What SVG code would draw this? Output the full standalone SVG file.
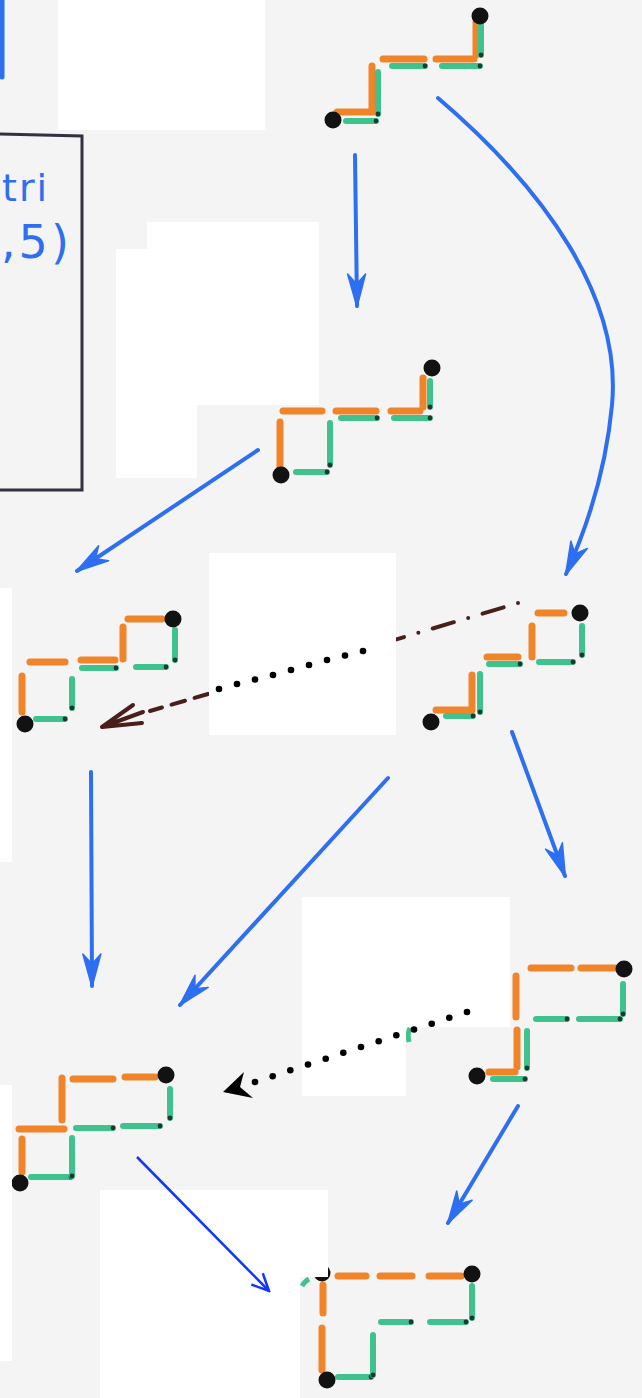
<svg xmlns="http://www.w3.org/2000/svg" width="642" height="1398" viewBox="0 0 642 1398">
  <style>
    .o { stroke: #ef8428; stroke-width: 7; stroke-linecap: round; fill: none; }
    .g { stroke: #3fc28e; stroke-width: 6; stroke-linecap: round; fill: none; marker-end: url(#gtip); }
    .pt { fill: #121212; }
    .b { stroke: #2d6ff0; stroke-width: 4; stroke-linecap: round; fill: none; marker-end: url(#dart); }
    .blk { fill: #000; }
    .mask { fill: #ffffff; }
    .frame { stroke: #30323f; stroke-width: 3; fill: none; stroke-linecap: round; }
    .note { fill: #2d6ff0; font-family: "DejaVu Sans", sans-serif; }
    .brown { stroke: #4a1e1a; stroke-width: 4; stroke-linecap: round; fill: none; }
  </style>
  <defs>
    <marker id="gtip" markerUnits="userSpaceOnUse" markerWidth="6" markerHeight="6" viewBox="-3 -3 6 6" refX="0" refY="0">
      <circle cx="0" cy="0" r="2.4" fill="#1b3a2b"/>
    </marker>
    <marker id="dart" markerUnits="userSpaceOnUse" markerWidth="36" markerHeight="22" viewBox="-34 -11 36 22" refX="0" refY="0" orient="auto">
      <path d="M1,0 L-32,-9 L-22,0 L-32,9 Z" fill="#2d6ff0" stroke="#2d6ff0" stroke-width="1.5" stroke-linejoin="round"/>
    </marker>
    <marker id="vee" markerUnits="userSpaceOnUse" markerWidth="22" markerHeight="20" viewBox="-20 -10 22 20" refX="0" refY="0" orient="auto">
      <path d="M-17,-8 L0,0 L-17,8" fill="none" stroke="#1136ff" stroke-width="2.5"/>
    </marker>
  </defs>

  <!-- paper -->
  <rect x="0" y="0" width="642" height="1398" fill="#f4f4f4"/>

  <!-- frame on the left with its note -->
  <g id="frame">
    <path class="frame" d="M0,134 L82,136 L82,490 L0,490"/>
    <text class="note" x="2" y="201" font-size="38" letter-spacing="2">tri</text>
    <text class="note" x="1" y="258" font-size="46" letter-spacing="3">,5)</text>
  </g>

  <!-- dash-dot link between the two middle paths -->
  <g id="link-dashdot">
    <line class="brown" x1="518" y1="603" x2="210" y2="695" stroke-dasharray="0 15 22 15"/>
    <line class="brown" x1="208" y1="694" x2="150" y2="711" stroke-dasharray="14 10"/>
    <path class="brown" d="M102,727 L133,705 M102,727 L143,712 M102,727 L142,723"/>
  </g>

  <!-- path A -->
  <g id="pathA">
    <line class="o" x1="337" y1="112" x2="373" y2="112"/>
    <line class="o" x1="372" y1="108" x2="372" y2="66"/>
    <line class="o" x1="383" y1="59" x2="424" y2="59"/>
    <line class="o" x1="436" y1="59" x2="474" y2="59"/>
    <line class="o" x1="476" y1="55" x2="476" y2="22"/>
    <line class="g" x1="346" y1="121" x2="376" y2="121"/>
    <line class="g" x1="378" y1="72" x2="378" y2="114"/>
    <line class="g" x1="392" y1="66" x2="425" y2="66"/>
    <line class="g" x1="442" y1="66" x2="480" y2="66"/>
    <line class="g" x1="481" y1="24" x2="481" y2="55"/>
    <circle class="pt" cx="333" cy="120" r="8.5"/>
    <circle class="pt" cx="480" cy="16" r="8.5"/>
  </g>

  <!-- path B -->
  <g id="pathB">
    <line class="o" x1="280" y1="422" x2="280" y2="470"/>
    <line class="o" x1="283" y1="411" x2="322" y2="411"/>
    <line class="o" x1="336" y1="411" x2="376" y2="411"/>
    <line class="o" x1="391" y1="411" x2="420" y2="411"/>
    <line class="o" x1="423" y1="378" x2="423" y2="407"/>
    <line class="g" x1="296" y1="472" x2="327" y2="472"/>
    <line class="g" x1="330" y1="423" x2="330" y2="465"/>
    <line class="g" x1="341" y1="418" x2="377" y2="418"/>
    <line class="g" x1="394" y1="418" x2="430" y2="418"/>
    <line class="g" x1="430" y1="381" x2="430" y2="407"/>
    <circle class="pt" cx="281" cy="475" r="8.5"/>
    <circle class="pt" cx="432" cy="368" r="8.5"/>
  </g>

  <!-- path C -->
  <g id="pathC">
    <line class="o" x1="22" y1="676" x2="22" y2="712"/>
    <line class="o" x1="30" y1="662" x2="65" y2="662"/>
    <line class="o" x1="81" y1="660" x2="115" y2="660"/>
    <line class="o" x1="123" y1="627" x2="123" y2="659"/>
    <line class="o" x1="128" y1="619" x2="162" y2="619"/>
    <line class="g" x1="36" y1="719" x2="65" y2="719"/>
    <line class="g" x1="72" y1="679" x2="72" y2="708"/>
    <line class="g" x1="82" y1="668" x2="116" y2="668"/>
    <line class="g" x1="136" y1="667" x2="166" y2="667"/>
    <line class="g" x1="175" y1="630" x2="175" y2="660"/>
    <circle class="pt" cx="25" cy="724" r="8.5"/>
    <circle class="pt" cx="173" cy="619" r="8.5"/>
  </g>

  <!-- path D -->
  <g id="pathD">
    <line class="o" x1="436" y1="710" x2="471" y2="710"/>
    <line class="o" x1="472" y1="675" x2="472" y2="710"/>
    <line class="o" x1="487" y1="657" x2="518" y2="657"/>
    <line class="o" x1="532" y1="626" x2="532" y2="657"/>
    <line class="o" x1="538" y1="613" x2="564" y2="613"/>
    <line class="g" x1="446" y1="716" x2="473" y2="716"/>
    <line class="g" x1="480" y1="674" x2="480" y2="712"/>
    <line class="g" x1="489" y1="664" x2="520" y2="664"/>
    <line class="g" x1="539" y1="662" x2="573" y2="662"/>
    <line class="g" x1="582" y1="626" x2="582" y2="655"/>
    <circle class="pt" cx="431" cy="722" r="8.5"/>
    <circle class="pt" cx="580" cy="613" r="8.5"/>
  </g>

  <!-- path E -->
  <g id="pathE">
    <path d="M410,1028 Q407,1034 409,1042" stroke="#3fc28e" stroke-width="5" fill="none"/>
    <line class="o" x1="489" y1="1072" x2="515" y2="1072"/>
    <line class="o" x1="517" y1="1030" x2="517" y2="1067"/>
    <line class="o" x1="516" y1="976" x2="516" y2="1017"/>
    <line class="o" x1="531" y1="968" x2="571" y2="968"/>
    <line class="o" x1="581" y1="968" x2="617" y2="968"/>
    <line class="g" x1="493" y1="1079" x2="525" y2="1079"/>
    <line class="g" x1="527" y1="1031" x2="527" y2="1068"/>
    <line class="g" x1="536" y1="1019" x2="567" y2="1019"/>
    <line class="g" x1="579" y1="1019" x2="620" y2="1019"/>
    <line class="g" x1="623" y1="984" x2="623" y2="1014"/>
    <circle class="pt" cx="477" cy="1076" r="8.5"/>
    <circle class="pt" cx="624" cy="969" r="8.5"/>
  </g>

  <!-- path F -->
  <g id="pathF">
    <line class="o" x1="22" y1="1139" x2="22" y2="1172"/>
    <line class="o" x1="19" y1="1129" x2="64" y2="1129"/>
    <line class="o" x1="62" y1="1078" x2="62" y2="1120"/>
    <line class="o" x1="73" y1="1079" x2="113" y2="1079"/>
    <line class="o" x1="125" y1="1077" x2="155" y2="1077"/>
    <line class="g" x1="31" y1="1177" x2="71" y2="1177"/>
    <line class="g" x1="72" y1="1138" x2="72" y2="1176"/>
    <line class="g" x1="76" y1="1128" x2="113" y2="1128"/>
    <line class="g" x1="123" y1="1126" x2="160" y2="1126"/>
    <line class="g" x1="170" y1="1089" x2="170" y2="1118"/>
    <circle class="pt" cx="20" cy="1183" r="8.5"/>
    <circle class="pt" cx="166" cy="1075" r="8.5"/>
  </g>

  <!-- path G -->
  <g id="pathG">
    <path d="M302,1286 Q305,1281 309,1279" stroke="#3fc28e" stroke-width="5" fill="none"/>
    <line class="o" x1="323" y1="1285" x2="323" y2="1313"/>
    <line class="o" x1="322" y1="1328" x2="322" y2="1370"/>
    <line class="o" x1="338" y1="1276" x2="366" y2="1276"/>
    <line class="o" x1="380" y1="1276" x2="412" y2="1276"/>
    <line class="o" x1="429" y1="1276" x2="461" y2="1276"/>
    <line class="g" x1="338" y1="1377" x2="371" y2="1377"/>
    <line class="g" x1="373" y1="1335" x2="373" y2="1375"/>
    <line class="g" x1="381" y1="1322" x2="411" y2="1322"/>
    <line class="g" x1="430" y1="1322" x2="466" y2="1322"/>
    <line class="g" x1="472" y1="1286" x2="472" y2="1318"/>
    <circle class="pt" cx="322" cy="1273" r="8.5"/>
    <circle class="pt" cx="327" cy="1380" r="8.5"/>
    <circle class="pt" cx="472" cy="1274" r="8.5"/>
  </g>

  <!-- blank panels -->
  <g id="panels">
    <rect class="mask" x="58" y="0" width="207" height="130"/>
    <rect class="mask" x="147" y="222" width="172" height="183"/>
    <rect class="mask" x="116" y="249" width="81" height="229"/>
    <rect class="mask" x="0" y="588" width="12" height="274"/>
    <rect class="mask" x="209" y="553" width="187" height="182"/>
    <rect class="mask" x="302" y="897" width="208" height="130"/>
    <rect class="mask" x="302" y="1027" width="104" height="69"/>
    <rect class="mask" x="0" y="1085" width="12" height="276"/>
    <rect class="mask" x="100" y="1190" width="228" height="87"/>
    <rect class="mask" x="100" y="1277" width="200" height="121"/>
  </g>

  <!-- connectors -->
  <g id="connectors">
    <line x1="2" y1="0" x2="2" y2="77" stroke="#2d6ff0" stroke-width="5" stroke-linecap="round"/>
    <path class="b" d="M355,155 L357,306"/>
    <path class="b" d="M438,98 C548,192 622,300 612,405 C606,470 588,525 566,574"/>
    <path class="b" d="M258,450 L77,571"/>
    <path class="b" d="M91,772 L92,986"/>
    <path class="b" d="M388,778 L180,1005"/>
    <path class="b" d="M512,732 L565,876"/>
    <path class="b" d="M518,1106 L448,1223"/>
    <path d="M137,1157 L269,1291" stroke="#1136ff" stroke-width="2.5" fill="none" marker-end="url(#vee)"/>

    <!-- dotted link, upper -->
    <g class="blk">
      <circle cx="219" cy="689" r="3.3"/>
      <circle cx="237" cy="684" r="3.3"/>
      <circle cx="255" cy="679.5" r="3.3"/>
      <circle cx="273" cy="675" r="3.3"/>
      <circle cx="291" cy="670" r="3.3"/>
      <circle cx="309" cy="665" r="3.3"/>
      <circle cx="327" cy="660" r="3.3"/>
      <circle cx="345" cy="655.5" r="3.3"/>
      <circle cx="363" cy="651" r="3.3"/>
    </g>

    <!-- dotted link, lower -->
    <g class="blk">
      <circle cx="255" cy="1082" r="3.3"/>
      <circle cx="272.7" cy="1076.2" r="3.3"/>
      <circle cx="290.3" cy="1070.3" r="3.3"/>
      <circle cx="308" cy="1064.5" r="3.3"/>
      <circle cx="325.7" cy="1058.7" r="3.3"/>
      <circle cx="343.3" cy="1052.8" r="3.3"/>
      <circle cx="361" cy="1047" r="3.3"/>
      <circle cx="378.7" cy="1041.2" r="3.3"/>
      <circle cx="396.3" cy="1035.3" r="3.3"/>
      <circle cx="414" cy="1029.5" r="3.3"/>
      <circle cx="431.7" cy="1023.7" r="3.3"/>
      <circle cx="449.3" cy="1017.8" r="3.3"/>
      <circle cx="467" cy="1012" r="3.3"/>
      <path d="M223,1092 L244,1072 L240,1087 L253,1098 Z"/>
    </g>
  </g>
</svg>
